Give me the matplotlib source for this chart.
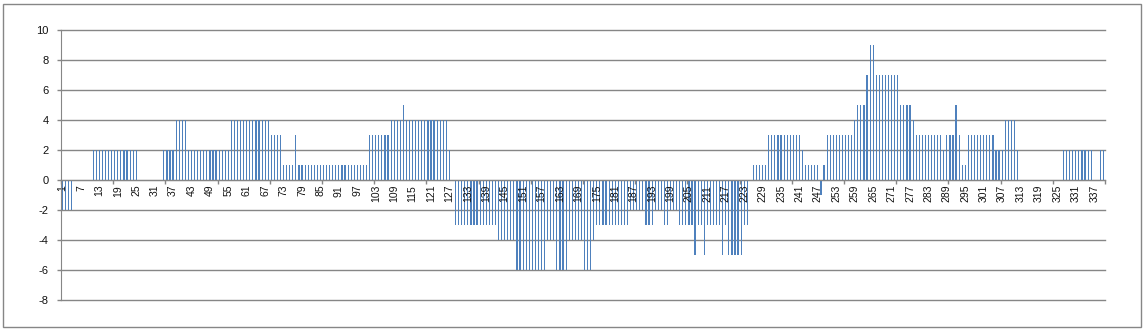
import matplotlib
matplotlib.use("Agg")
import matplotlib.pyplot as plt
from matplotlib.patches import Rectangle

plt.rcParams['font.family'] = ['Liberation Sans', 'DejaVu Sans']
plt.rcParams['axes.unicode_minus'] = False

# ---- data (category 1..340) ----
vals_001_040 = [-2, -2, -2, -2, 0, 0, 0, 0, 0, 0,
                2, 2, 2, 2, 2, 2, 2, 2, 2, 2,
                2, 2, 2, 2, 2, 0, 0, 0, 0, 0,
                0, 0, 0, 2, 2, 2, 2, 4, 4, 4]
vals_041_080 = [4, 2, 2, 2, 2, 2, 2, 2, 2, 2,
                2, 2, 2, 2, 2, 4, 4, 4, 4, 4,
                4, 4, 4, 4, 4, 4, 4, 4, 3, 3,
                3, 3, 1, 1, 1, 1, 3, 1, 1, 1]
vals_081_120 = [1, 1, 1, 1, 1, 1, 1, 1, 1, 1,
                1, 1, 1, 1, 1, 1, 1, 1, 1, 1,
                3, 3, 3, 3, 3, 3, 3, 4, 4, 4,
                4, 5, 4, 4, 4, 4, 4, 4, 4, 4]
vals_121_160 = [4, 4, 4, 4, 4, 4, 2, 0, -3, -3,
                -3, -3, -3, -3, -3, -3, -3, -3, -3, -3,
                -3, -3, -4, -4, -4, -4, -4, -4, -6, -6,
                -6, -6, -6, -6, -6, -6, -6, -6, -4, -4]
vals_161_200 = [-4, -6, -6, -6, -6, -4, -4, -4, -4, -4,
                -6, -6, -6, -4, -3, -3, -3, -3, -3, -3,
                -3, -3, -3, -3, -3, -2, -2, -2, -2, -2,
                -3, -3, -3, -2, -2, -2, -3, -3, -2, -2]
vals_201_240 = [-2, -3, -3, -3, -3, -3, -5, -3, -3, -5,
                -3, -3, -3, -3, -3, -5, -3, -5, -5, -5,
                -5, -5, -3, -3, 0, 1, 1, 1, 1, 1,
                3, 3, 3, 3, 3, 3, 3, 3, 3, 3]
vals_241_280 = [3, 2, 1, 1, 1, 1, 1, -1, 1, 3,
                3, 3, 3, 3, 3, 3, 3, 3, 4, 5,
                5, 5, 7, 9, 9, 7, 7, 7, 7, 7,
                7, 7, 7, 5, 5, 5, 5, 4, 3, 3]
vals_281_320 = [3, 3, 3, 3, 3, 3, 3, 2, 3, 3,
                3, 5, 3, 1, 1, 3, 3, 3, 3, 3,
                3, 3, 3, 3, 2, 2, 2, 4, 4, 4,
                4, 2, 0, 0, 0, 0, 0, 0, 0, 0]
vals_321_340 = [0, 0, 0, 0, 0, 0, 2, 2, 2, 2,
                2, 2, 2, 2, 2, 2, 0, 0, 2, 2]

values = (vals_001_040 + vals_041_080 + vals_081_120 + vals_121_160 +
          vals_161_200 + vals_201_240 + vals_241_280 + vals_281_320 +
          vals_321_340)
categories = list(range(1, len(values) + 1))
x_label_positions = list(range(1, len(values) + 1, 6))
x_tick_labels = [str(c) for c in x_label_positions]
y_ticks = list(range(-8, 11, 2))
tick_mark_interval = 17

W, H = 1145, 332
fig = plt.figure(figsize=(W / 100, H / 100), dpi=100)
fig.patch.set_facecolor('white')

# chart area border
fig.patches.append(Rectangle((3 / W, 1 - 327 / H), (1141 - 3) / W, (327 - 4) / H,
                             transform=fig.transFigure, fill=False,
                             edgecolor='#868686', linewidth=1.0))

ax = fig.add_axes([61 / W, 1 - 300 / H, 1044 / W, 270 / H])
grid_c = '#868686'
for y in y_ticks:
    ax.axhline(y, color=grid_c, linewidth=1.0, zorder=0.5, clip_on=False)

ax.bar(categories, values, width=0.38, color='#4F81BD', linewidth=0, zorder=1)

ax.set_xlim(0.5, len(values) + 0.5)
ax.set_ylim(-8, 10)

for s in ['top', 'right']:
    ax.spines[s].set_visible(False)
ax.spines['left'].set_color(grid_c)
ax.spines['bottom'].set_position(('data', 0))
ax.spines['bottom'].set_color(grid_c)

ax.set_yticks(y_ticks)
ax.set_yticklabels([str(v) for v in y_ticks])
ax.tick_params(axis='y', direction='out', length=3, width=1, color=grid_c,
               labelsize=8, pad=6, labelcolor='#111111')

ax.set_xticks(x_label_positions)
ax.set_xticklabels(x_tick_labels, rotation=90)
ax.set_xticks([k * tick_mark_interval + 0.5 for k in range(0, len(values) // tick_mark_interval + 1)],
              minor=True)
ax.tick_params(axis='x', which='major', length=0, labelsize=7.5, pad=3.5,
               labelcolor='#111111')
ax.tick_params(axis='x', which='minor', direction='out', length=3, width=1,
               color=grid_c)
for lbl in ax.get_xticklabels():
    lbl.set_va('top')
    lbl.set_ha('center')

fig.savefig('out.png', dpi=100, facecolor='white')
